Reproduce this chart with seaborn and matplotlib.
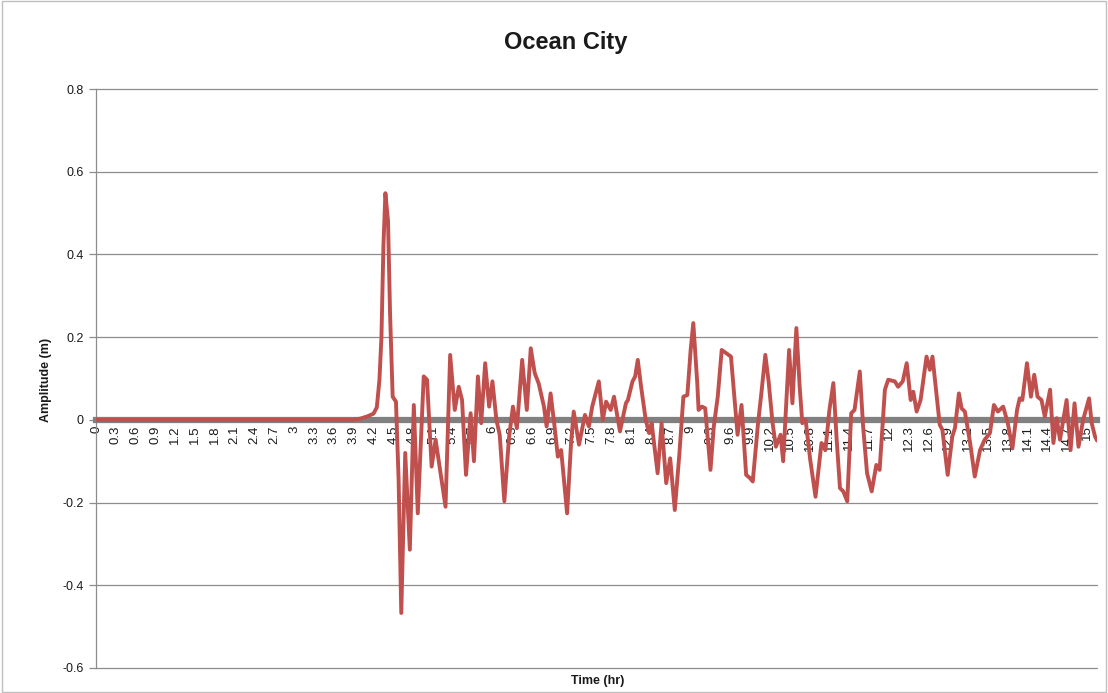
import matplotlib
matplotlib.use('Agg')
import matplotlib.pyplot as plt
from matplotlib.patches import Rectangle
import seaborn as sns

# time (hr) and amplitude (m)
time_hr = [0, 3.9, 4.0, 4.1, 4.2, 4.25, 4.29, 4.32, 4.35, 4.38, 4.42, 4.45, 4.49, 4.54,
           4.58, 4.62, 4.68, 4.75, 4.81, 4.87, 4.96, 5.01, 5.08, 5.14, 5.29, 5.36, 5.43,
           5.49, 5.54, 5.60, 5.67, 5.72, 5.78, 5.83, 5.89, 5.95, 6.00, 6.06, 6.11, 6.18,
           6.25, 6.31, 6.37, 6.45, 6.52, 6.58, 6.64, 6.70, 6.78, 6.82, 6.88, 6.94, 6.99,
           7.04, 7.13, 7.19, 7.23, 7.31, 7.40, 7.46, 7.51, 7.61, 7.67, 7.72, 7.79, 7.84,
           7.93, 8.02, 8.05, 8.12, 8.16, 8.20, 8.25, 8.32, 8.37, 8.41, 8.50, 8.56, 8.63,
           8.69, 8.76, 8.83, 8.89, 8.95, 9.00, 9.04, 9.10, 9.12, 9.17, 9.22, 9.30, 9.35,
           9.41, 9.47, 9.54, 9.61, 9.71, 9.77, 9.84, 9.90, 9.94, 10.02, 10.07, 10.13,
           10.18, 10.24, 10.29, 10.36, 10.40, 10.49, 10.54, 10.60, 10.65, 10.69, 10.74,
           10.81, 10.89, 10.98, 11.04, 11.10, 11.16, 11.21, 11.26, 11.31, 11.37, 11.43,
           11.48, 11.56, 11.61, 11.67, 11.74, 11.81, 11.86, 11.94, 11.99, 12.09, 12.14,
           12.21, 12.27, 12.33, 12.37, 12.42, 12.48, 12.57, 12.62, 12.66, 12.72, 12.77,
           12.81, 12.89, 12.96, 13.00, 13.06, 13.10, 13.15, 13.23, 13.30, 13.38, 13.45,
           13.53, 13.59, 13.65, 13.73, 13.80, 13.87, 13.94, 13.98, 14.02, 14.09, 14.15,
           14.20, 14.25, 14.31, 14.36, 14.44, 14.49, 14.54, 14.59, 14.64, 14.69, 14.75,
           14.81, 14.87, 14.94, 15.03, 15.07, 15.12, 15.15]
amplitude = [0, 0, 0.003, 0.008, 0.015, 0.03, 0.097, 0.2, 0.42, 0.548, 0.48, 0.26, 0.056, 0.044,
             -0.145, -0.467, -0.08, -0.314, 0.036, -0.226, 0.105, 0.097, -0.113, -0.048, -0.21, 0.157, 0.024,
             0.08, 0.048, -0.133, 0.016, -0.1, 0.105, -0.008, 0.137, 0.032, 0.093, 0.0, -0.036, -0.197,
             -0.044, 0.032, -0.02, 0.145, 0.024, 0.173, 0.113, 0.088, 0.032, -0.016, 0.064, -0.016, -0.089,
             -0.073, -0.226, -0.056, 0.02, -0.06, 0.012, -0.016, 0.032, 0.093, 0.0, 0.044, 0.024, 0.056,
             -0.028, 0.04, 0.048, 0.093, 0.105, 0.145, 0.08, 0.0, -0.032, -0.008, -0.129, -0.008, -0.153,
             -0.093, -0.218, -0.081, 0.056, 0.06, 0.169, 0.234, 0.089, 0.024, 0.032, 0.028, -0.121, -0.016,
             0.056, 0.169, 0.161, 0.153, -0.036, 0.036, -0.133, -0.141, -0.149, -0.008, 0.064, 0.157,
             0.093, -0.008, -0.065, -0.036, -0.1, 0.169, 0.04, 0.222, 0.08, -0.008, 0.0,
             -0.097, -0.186, -0.056, -0.073, 0.024, 0.089, -0.048, -0.165, -0.173, -0.197, 0.016,
             0.024, 0.117, -0.016, -0.129, -0.173, -0.109, -0.121, 0.073, 0.097, 0.093, 0.08,
             0.093, 0.137, 0.048, 0.068, 0.02, 0.048, 0.153, 0.121, 0.153, 0.064, -0.012,
             -0.024, -0.133, -0.04, -0.02, 0.064, 0.028, 0.02, -0.056, -0.137, -0.073, -0.048,
             -0.032, 0.036, 0.02, 0.032, -0.008, -0.069, 0.024, 0.052, 0.048, 0.137, 0.056,
             0.109, 0.056, 0.048, 0.008, 0.073, -0.056, 0.004, -0.048, 0.0, 0.048, -0.073,
             0.04, -0.065, 0.0, 0.052, -0.008, -0.04, -0.05]

x_ticks = [round(0.3 * i, 1) for i in range(51)]
x_labels = [f"{v:g}" for v in x_ticks]
y_ticks = [0.8, 0.6, 0.4, 0.2, 0, -0.2, -0.4, -0.6]
y_labels = ["0.8", "0.6", "0.4", "0.2", "0", "-0.2", "-0.4", "-0.6"]

sns.set_theme(style='white')
plt.rcParams['font.family'] = ['Liberation Sans', 'DejaVu Sans']

W, H = 1108, 693
fig = plt.figure(figsize=(W / 100, H / 100), dpi=100)
ax = fig.add_axes([96 / W, 1 - 668 / H, (1097 - 96) / W, (668 - 89) / H])

sns.lineplot(x=time_hr, y=amplitude, ax=ax, color='#C0504D', linewidth=2.8,
             estimator=None, sort=False, zorder=3)

ax.set_xlim(0, 15.15)
ax.set_ylim(-0.6, 0.8)
ax.set_yticks(y_ticks)
ax.set_yticklabels(y_labels)
ax.set_xticks(x_ticks)
ax.set_xticklabels(x_labels)
ax.yaxis.grid(True, color='#8c8c8c', linewidth=0.9)
ax.xaxis.grid(False)
for gl in ax.get_ygridlines():
    gl.set_clip_on(False)
ax.set_xlabel('')
ax.set_ylabel('')

# category axis sits on y = 0, like the excel chart
ax.spines['bottom'].set_position(('data', 0))
ax.spines['bottom'].set_color('#808080')
ax.spines['bottom'].set_linewidth(4.5)
ax.spines['left'].set_color('#8c8c8c')
ax.spines['left'].set_linewidth(0.9)
ax.spines['top'].set_visible(False)
ax.spines['right'].set_visible(False)

ax.tick_params(axis='x', length=0, pad=4, labelsize=9.5, colors='#1a1a1a',
               labelrotation=90)
ax.tick_params(axis='y', left=True, length=5, width=0.9, color='#8c8c8c',
               pad=4, labelsize=9, labelcolor='#1a1a1a')
for lbl in ax.get_xticklabels():
    lbl.set_va('top')
    lbl.set_ha('center')

fig.text(566 / W, 1 - 43 / H, 'Ocean City', ha='center', va='center',
         fontsize=17, fontweight='bold', color='#1a1a1a')
fig.text(46 / W, 1 - 380 / H, 'Amplitude (m)', ha='center', va='center',
         rotation=90, fontsize=9, fontweight='bold', color='#1a1a1a')
fig.text(598 / W, 1 - 681 / H, 'Time (hr)', ha='center', va='center',
         fontsize=9, fontweight='bold', color='#1a1a1a')

fig.patches.append(Rectangle((0.002, 0.002), 0.996, 0.996, transform=fig.transFigure,
                             fill=False, edgecolor='#bfbfbf', linewidth=1))

fig.savefig('out.png', dpi=100)
